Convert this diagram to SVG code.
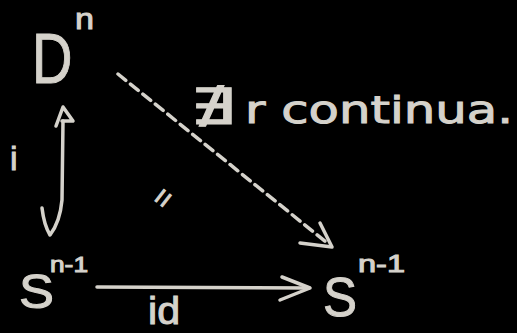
<svg xmlns="http://www.w3.org/2000/svg" width="517" height="333" viewBox="0 0 517 333">
<style>
.t{fill:#d5d2cb;stroke:#d5d2cb;stroke-width:1;font-family:"Liberation Sans","DejaVu Sans",sans-serif}
.d{fill:#d5d2cb;stroke:#d5d2cb;stroke-width:1;font-family:"DejaVu Sans","Liberation Sans",sans-serif}
.s{fill:none;stroke:#d5d2cb;stroke-width:3.5;stroke-linecap:round;stroke-linejoin:round}
</style>
<rect width="517" height="333" fill="#000"/>
<g id="connectors">
<g id="dashed-arrow">
<path class="s" d="M118,74 L326,242" stroke-dasharray="10,6"/>
<path class="s" d="M300,243 L332,247 L320,223"/>
</g>
<g id="inclusion-arrow">
<path class="s" d="M63,121 L62,200 Q60,222 50,235 Q44,225 42,208"/>
<path class="s" d="M56,126 L63,107 L73,121 L62,121"/>
</g>
<g id="id-arrow">
<path class="s" d="M97,287 L309,288"/>
<path class="s" d="M282,277 L310,288 L280,300"/>
</g>
</g>
<g id="node-Dn">
<text class="t" font-size="70" transform="translate(32,83) scale(0.8,1)">D</text>
<text class="t" x="75" y="29" font-size="30" textLength="19" lengthAdjust="spacingAndGlyphs">n</text>
</g>
<g id="node-S-left">
<text class="t" x="19" y="308" font-size="48" textLength="35" lengthAdjust="spacingAndGlyphs">S</text>
<text class="t" x="50" y="272" font-size="22" textLength="38" lengthAdjust="spacingAndGlyphs">n-1</text>
</g>
<g id="node-S-right">
<text class="t" x="323" y="316" font-size="56" textLength="34" lengthAdjust="spacingAndGlyphs">S</text>
<text class="t" x="358" y="272" font-size="24" textLength="47" lengthAdjust="spacingAndGlyphs">n-1</text>
</g>
<g id="labels">
<text class="d" x="190" y="124" font-size="50" textLength="46" lengthAdjust="spacingAndGlyphs">∄</text>
<text class="d" x="245" y="123" font-size="38" textLength="268" lengthAdjust="spacingAndGlyphs">r continua.</text>
<text class="t" x="10" y="170" font-size="34">i</text>
<text class="t" x="148" y="324" font-size="38" textLength="32" lengthAdjust="spacingAndGlyphs">id</text>
<text class="t" x="0" y="0" font-size="30" text-anchor="middle" transform="translate(163,198) rotate(-52) translate(0,10)">=</text>
</g>
</svg>
